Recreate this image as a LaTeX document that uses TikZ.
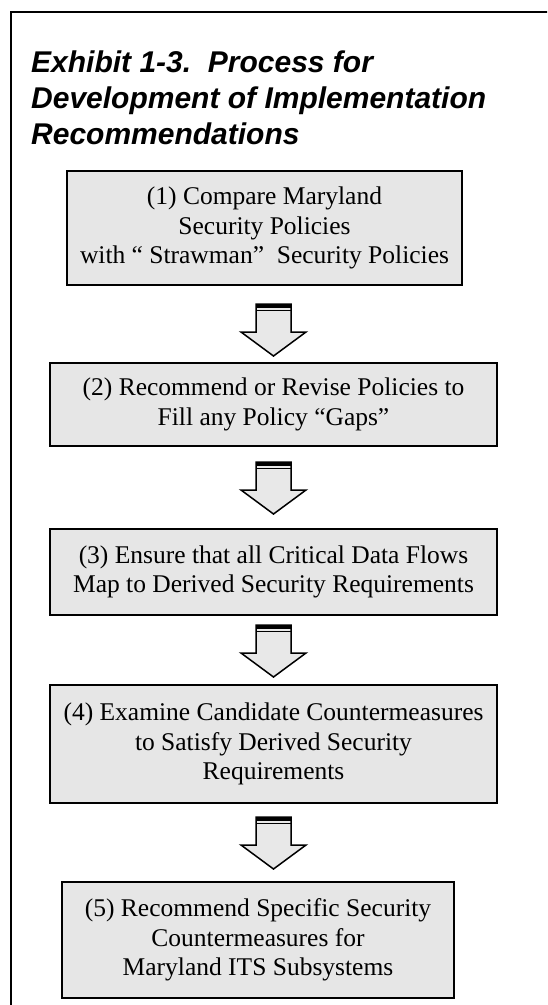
\documentclass[tikz,border=0pt]{standalone}
\usepackage{fontspec}
\setmainfont{Liberation Serif}
\newfontfamily\titlefont{Liberation Sans}
\usetikzlibrary{calc}
\definecolor{boxgrey}{HTML}{E6E6E6}
\definecolor{arrowgrey}{HTML}{E8E8E8}
\tikzset{
  stepbox/.style={draw=black, line width=2pt, fill=boxgrey, align=center,
    inner sep=0pt, font=\fontsize{25.5}{29.5}\selectfont},
  pics/downarrow/.style={code={
    % hollow block arrow pointing down, with a banded top edge
    \draw[line width=1.5pt, fill=arrowgrey, line join=miter]
      (-17.5,0) -- (-17.5,28) -- (-32.5,28) -- (0,52) -- (32.5,28)
      -- (17.5,28) -- (17.5,0) -- cycle;
    \fill[black] (-17.5,0) rectangle (17.5,3.5);
    \draw[line width=1pt] (-17.5,6.5) -- (17.5,6.5);
  }}
}
\begin{document}
\begin{tikzpicture}[x=1pt,y=-1pt]
\useasboundingbox (0,0) rectangle (547,1005);
\clip (0,0) rectangle (547,1005);
% outer frame
\draw[line width=2pt] (11,1020) -- (11,12) -- (560,12);
% heading (base anchor sits on the last line)
\node[anchor=base west, inner sep=0pt, align=left,
  font=\titlefont\fontsize{30}{36}\selectfont\bfseries\itshape] (title) at (31,144)
  {Exhibit 1-3.\ \ Process for\\Development of Implementation\\Recommendations};
% process steps
\node[stepbox, minimum width=395pt, minimum height=114pt] (s1) at (264.5,228)
  {(1) Compare Maryland\\Security Policies\\with “ Strawman”\ \ Security Policies};
\node[stepbox, minimum width=447pt, minimum height=83pt] (s2) at (273.5,404.5)
  {(2) Recommend or Revise Policies to\\Fill any Policy “Gaps”};
\node[stepbox, minimum width=447pt, minimum height=86pt] (s3) at (273.5,572)
  {(3) Ensure that all Critical Data Flows\\Map to Derived Security Requirements};
\node[stepbox, minimum width=447pt, minimum height=118pt] (s4) at (273.5,744)
  {(4) Examine Candidate Countermeasures\\to Satisfy Derived Security\\Requirements};
\node[stepbox, minimum width=392pt, minimum height=116pt] (s5) at (258,940)
  {(5) Recommend Specific Security\\Countermeasures for\\Maryland ITS Subsystems};
% block arrows between the steps
\pic at ($(s1.south -| s3.center)+(0,18)$) {downarrow};
\pic at ($(s2.south -| s3.center)+(0,15)$) {downarrow};
\pic at ($(s3.south -| s3.center)+(0,9)$) {downarrow};
\pic at ($(s4.south -| s3.center)+(0,13)$) {downarrow};
\end{tikzpicture}
\end{document}
